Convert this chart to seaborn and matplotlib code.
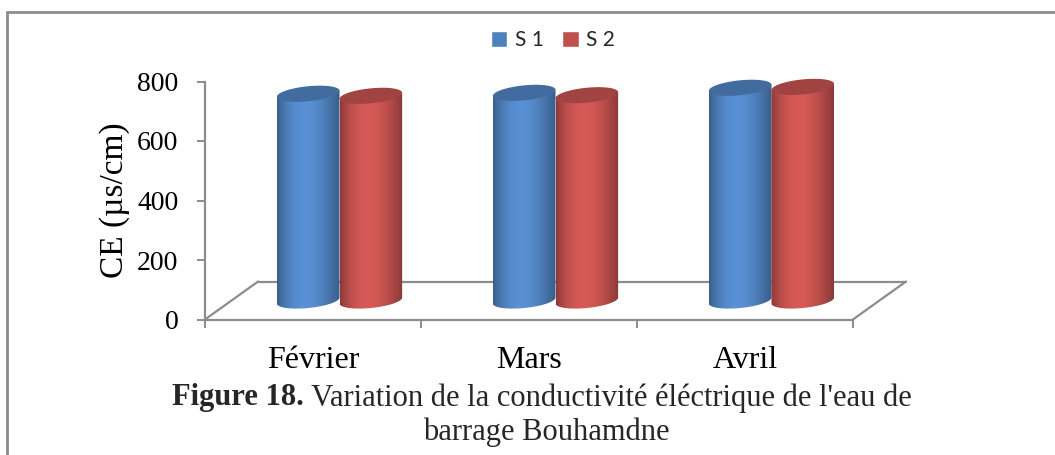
import numpy as np
import pandas as pd
import matplotlib
matplotlib.use("Agg")
import matplotlib.pyplot as plt
from matplotlib.patches import Polygon, Rectangle
from matplotlib.lines import Line2D
import matplotlib.colors as mcolors
import seaborn as sns

# --- DONNEES ---
mois = ["Février", "Mars", "Avril"]
s1 = [695, 698, 715]
s2 = [688, 690, 718]
stations = ["S 1", "S 2"]

# --- STYLE ---
sns.set_theme(style="white")
plt.rcParams["font.family"] = ["Liberation Serif", "DejaVu Serif"]

BLEU = "#4F81BD"
ROUGE = "#C0504D"
GRIS = "#8C8C8C"

W, H = 1055, 455
fig = plt.figure(figsize=(W / 100, H / 100), dpi=100)

# axe : y=0 a 319.5 px, y=800 a 81.5 px ; x de 205 px a 906 px
ax = fig.add_axes([205 / W, (H - 319.5) / H, 701 / W, 238 / H])

df = pd.DataFrame({
    "Mois": mois * 2,
    "CE": s1 + s2,
    "Station": [stations[0]] * 3 + [stations[1]] * 3,
})

sns.barplot(data=df, x="Mois", y="CE", hue="Station", palette=[BLEU, ROUGE],
            width=0.58, saturation=1, legend=False, ax=ax)

# --- effet 3D (projection oblique) ---
px_x = 647 / 3          # pixels par categorie
px_y = 238 / 800        # pixels par unite
dx = 53 / px_x          # profondeur du plancher (categories)
dy = 38 / px_y          # profondeur du plancher (unites)
b = 7.5 / px_y          # demi-hauteur des ellipses
m = 3.0 / px_y          # inclinaison des ellipses

t_bas = np.linspace(np.pi, 2 * np.pi, 60)
t_tout = np.linspace(0, 2 * np.pi, 120)
u = np.linspace(0, 1, 200)
profil = 0.72 + 0.40 * np.sin(np.pi * u ** 0.85)


def teinte(c, f):
    rgb = np.array(mcolors.to_rgb(c))
    return np.clip(rgb * f, 0, 1)


for couleur, cont in zip([BLEU, ROUGE], ax.containers):
    for p in cont:
        x0 = p.get_x() + dx / 2
        w = p.get_width()
        yb = dy / 2
        yt = yb + p.get_height()
        p.set_visible(False)
        cx, a = x0 + w / 2, w / 2

        xb = cx + a * np.cos(t_bas)
        ybas = yb + b * np.sin(t_bas) + m * np.cos(t_bas)
        corps = np.column_stack([
            np.r_[xb, x0 + w, x0],
            np.r_[ybas, yt + m, yt - m],
        ])
        poly = Polygon(corps, closed=True, facecolor="none", edgecolor="none",
                       zorder=3, clip_on=False)
        ax.add_patch(poly)

        grad = np.array([teinte(couleur, f) for f in profil])[np.newaxis, :, :]
        im = ax.imshow(grad, extent=[x0, x0 + w, yb - b - m, yt + m],
                       aspect="auto", zorder=3, interpolation="bilinear")
        im.set_clip_path(poly)

        dessus = np.column_stack([
            cx + a * np.cos(t_tout),
            yt + b * np.sin(t_tout) + m * np.cos(t_tout),
        ])
        ax.add_patch(Polygon(dessus, closed=True, facecolor=teinte(couleur, 0.84),
                             edgecolor="none", zorder=4, clip_on=False))

# plancher
kw = dict(color=GRIS, lw=1.6, clip_on=False, zorder=1)
ax.plot([-0.5 + dx, 2.5 + dx], [dy, dy], **kw)
ax.plot([-0.5, -0.5 + dx], [0, dy], **kw)
ax.plot([2.5, 2.5 + dx], [0, dy], **kw)

ax.set_xlim(-0.5, 2.5 + dx)
ax.set_ylim(0, 800)
ax.set_yticks([0, 200, 400, 600, 800])

ax.set_xticks([-0.5, 0.5, 1.5, 2.5], labels=[])
ax.set_xticks([0, 1, 2], labels=mois, minor=True)

for cote in ["top", "right"]:
    ax.spines[cote].set_visible(False)
for cote in ["left", "bottom"]:
    ax.spines[cote].set_color(GRIS)
    ax.spines[cote].set_linewidth(1.6)
ax.spines["bottom"].set_bounds(-0.5, 2.5)

ax.tick_params(axis="y", left=True, length=6, width=1.4, color=GRIS,
               pad=13, labelsize=20, labelcolor="black")
ax.tick_params(axis="x", which="major", bottom=True, length=6, width=1.4, color=GRIS)
ax.tick_params(axis="x", which="minor", bottom=True, length=0, pad=19,
               labelsize=23, labelcolor="black")

ax.set_xlabel("")
ax.set_ylabel("CE (µs/cm)", fontsize=24, color="black", labelpad=5)
ax.patch.set_visible(False)

# legende
poignees = [Rectangle((0, 0), 1, 1, facecolor=c) for c in [BLEU, ROUGE]]
fig.legend(poignees, stations, loc="center", bbox_to_anchor=(553 / W, 1 - 40 / H),
           ncol=2, frameon=False, handlelength=0.8, handleheight=0.8,
           handletextpad=0.35, columnspacing=0.9,
           prop={"family": "Lato", "size": 15})

# cadre
fig.add_artist(Line2D([7 / W, 1], [1 - 12 / H, 1 - 12 / H], color=GRIS, lw=2))
fig.add_artist(Line2D([7 / W, 7 / W], [0, 1 - 12 / H], color=GRIS, lw=2))

# legende de la figure
t1 = fig.text(172 / W, 1 - 398 / H, "Figure 18.", fontsize=22, fontweight="bold",
              ha="left", va="center")
ax.annotate(" Variation de la conductivité éléctrique de l'eau de", xy=(1, 0.5),
            xycoords=t1, ha="left", va="center", fontsize=22)
fig.text(546 / W, 1 - 432 / H, "barrage Bouhamdne", fontsize=22, ha="center", va="center")

plt.savefig("out.png", dpi=100)
plt.close()
